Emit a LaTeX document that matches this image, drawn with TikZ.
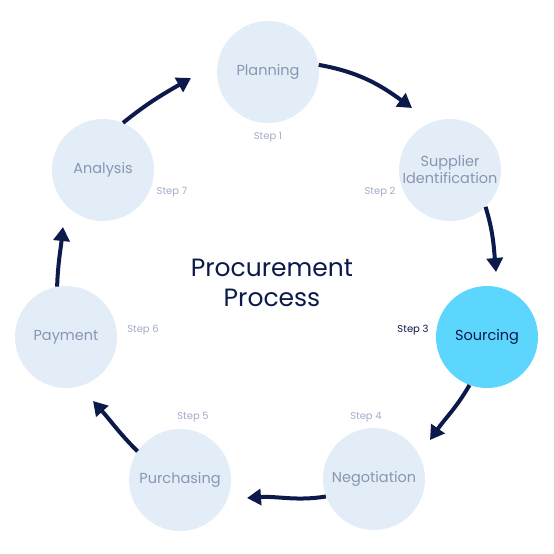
\documentclass[tikz,border=0pt]{standalone}
\usepackage{fontspec}
\setmainfont{Poppins}
\usetikzlibrary{arrows.meta,positioning}
\definecolor{navy}{HTML}{0B1A4B}
\definecolor{pale}{HTML}{E2EDF7}
\definecolor{sky}{HTML}{5DD6FE}
\definecolor{greyblue}{HTML}{8A95B3}
\definecolor{steptxt}{HTML}{A3ACC6}

\begin{document}
\begin{tikzpicture}[x=1pt,y=1pt]
\tikzstyle{stage}=[circle, fill=pale, minimum size=102pt, inner sep=0pt, text=greyblue, align=center, font=\fontsize{14.5}{17}\selectfont]
\tikzstyle{lbl}=[inner sep=1pt, text=steptxt, font=\fontsize{10}{12}\selectfont]
\tikzstyle{arr}=[draw=navy, line width=4pt, -{Triangle[length=14pt,width=16pt]}]
\useasboundingbox (0,0) rectangle (554,-554);
\foreach \x/\y/\n/\t in {268/72/plan/Planning,450/170/supp/{Supplier\\Identification},374/479/neg/Negotiation,180/480/pur/Purchasing,66/337/pay/Payment,103/170/ana/Analysis}{\node[stage] (\n) at (\x,-\y){\t};}
\node[stage, fill=sky, text=navy] (src) at (487,-337){Sourcing};
% step numbers
\foreach \x/\y/\n/\s in {268/137/s1/1,380/192/s2/2,366/417/s4/4,193/417/s5/5,143/330/s6/6,172/192/s7/7}{\node[lbl] (\n) at (\x,-\y){Step \s};}
\node[lbl, text=navy] (s3) at (413,-330){Step 3};
\node[text=navy, align=center, font=\fontsize{25}{30}\selectfont] (title) at (272,-283){Procurement\\Process};
% arrow tips
\foreach \x/\y/\n in {412/108/t1,496/272/t2,430/440/t3,247/498/t4,93/401/t5,63/227/t6,191/78/t7}{\coordinate (\n) at (\x,-\y);}
% cycle
\foreach \a/\o/\i/\b in {plan.8/-10/144/t1,supp.-46/-73/95/t2,src.-110/-120/55/t3,neg.-160/-171/4/t4,pur.146/135/-48/t5,pay.100/88/-96/t6,ana.67/39/210/t7}{\draw[arr] (\a) to[out=\o,in=\i] (\b);}
\end{tikzpicture}
\end{document}
